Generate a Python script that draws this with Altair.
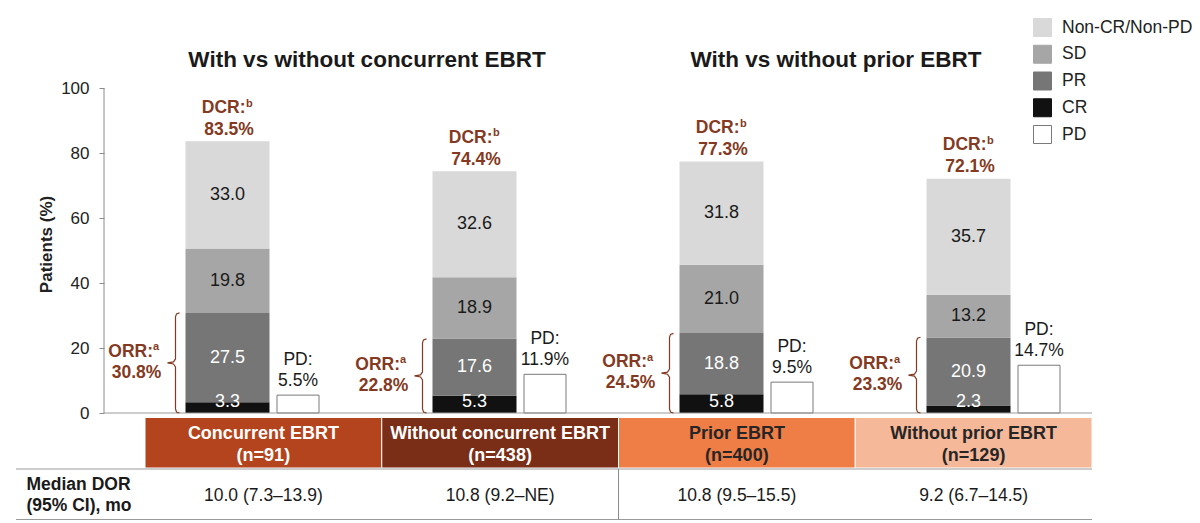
import altair as alt
import pandas as pd

# ---------------- data ----------------
groups = ["Concurrent EBRT", "Without concurrent EBRT", "Prior EBRT", "Without prior EBRT"]
group_n = ["(n=91)", "(n=438)", "(n=400)", "(n=129)"]
cr = [3.3, 5.3, 5.8, 2.3]
pr = [27.5, 17.6, 18.8, 20.9]
sd = [19.8, 18.9, 21.0, 13.2]
noncr = [33.0, 32.6, 31.8, 35.7]
pd_vals = [5.5, 11.9, 9.5, 14.7]
orr = [30.8, 22.8, 24.5, 23.3]
dcr = [83.5, 74.4, 77.3, 72.1]
median_dor = ["10.0 (7.3–13.9)", "10.8 (9.2–NE)", "10.8 (9.5–15.5)", "9.2 (6.7–14.5)"]
panel_titles = ["With vs without concurrent EBRT", "With vs without prior EBRT"]
y_ticks = [0, 20, 40, 60, 80, 100]

categories = ["Non-CR/Non-PD", "SD", "PR", "CR", "PD"]
cat_fill = ["#d9d9d9", "#a6a6a6", "#767676", "#111111", "#ffffff"]
cat_stroke = ["#d9d9d9", "#a6a6a6", "#767676", "#111111", "#7a7a7a"]
cat_label_color = {"CR": "#ffffff", "PR": "#ffffff", "SD": "#1a1a1a", "Non-CR/Non-PD": "#1a1a1a"}
box_colors = ["#b4441d", "#7a2d17", "#ee7d46", "#f5b999"]
box_text_colors = ["#ffffff", "#ffffff", "#262626", "#262626"]
BROWN = "#843a22"
FONT = "Liberation Sans"

# ---------------- layout ----------------
LEFT, TOP = 104, 88
PLOT_W, PLOT_H = 988, 435
PX_PER_GROUP = 247.0
PX_PER_PCT = 3.25
X_DOM = [-0.5, 3.5]
Y_DOM = [100 - PLOT_H / PX_PER_PCT, 100]


def ux(px):
    return px / PX_PER_GROUP


def uy(px):
    return px / PX_PER_PCT


def vx(page_x):
    return X_DOM[0] + (page_x - LEFT) / PX_PER_GROUP


def vy(page_y):
    return 100 - (page_y - TOP) / PX_PER_PCT


BAR_HALF = ux(42)
PD_X0, PD_X1 = ux(49.5), ux(91.5)
BOX_LEFT = vx(145)
BOX_W = (X_DOM[1] - BOX_LEFT) / 4

xscale = alt.Scale(domain=X_DOM, nice=False, zero=False)
yscale = alt.Scale(domain=Y_DOM, nice=False, zero=False)

# stacked segments
rows = []
for i in range(4):
    base = 0.0
    for rank, (cat, vals) in enumerate([("CR", cr), ("PR", pr), ("SD", sd), ("Non-CR/Non-PD", noncr)]):
        v = vals[i]
        mid = base + v / 2
        if cat == "CR":
            mid = max(mid, 3.3)
        rows.append(dict(g=i, cat=cat, rank=rank, x0=i - BAR_HALF, x1=i + BAR_HALF,
                         y0=base, y1=base + v, ymid=mid, label=f"{v:.1f}",
                         tcolor=cat_label_color[cat], xc=i))
        base += v
stack_df = pd.DataFrame(rows)

pd_df = pd.DataFrame(dict(g=range(4), cat="PD", x0=[i + PD_X0 for i in range(4)],
                          x1=[i + PD_X1 for i in range(4)], y0=0.0, y1=pd_vals,
                          xc=[i + (PD_X0 + PD_X1) / 2 for i in range(4)],
                          l1="PD:", l2=[f"{v}%" for v in pd_vals]))

ann_df = pd.DataFrame(dict(g=range(4), xc=list(range(4)), dcr=dcr, orr=orr,
                           orr_mid=[v / 2 for v in orr],
                           dcr_txt=[f"{v}%" for v in dcr], orr_txt=[f"{v}%" for v in orr]))

# braces
brace_rows = []
for i, o in enumerate(orr):
    xv, xe, xt = i + ux(-52), i + ux(-48), i + ux(-60)
    pts = [(xe, o), (xv + ux(1), o - uy(1)), (xv, o - uy(4)), (xv, o / 2 + uy(4)),
           (xv - ux(2), o / 2 + uy(1)), (xt, o / 2), (xv - ux(2), o / 2 - uy(1)),
           (xv, o / 2 - uy(4)), (xv, uy(4)), (xv + ux(1), uy(1)), (xe, 0)]
    for k, (x, y) in enumerate(pts):
        brace_rows.append(dict(g=i, k=k, x=x, y=y))
brace_df = pd.DataFrame(brace_rows)

box_df = pd.DataFrame(dict(name=groups, n=group_n, dor=median_dor,
                           x0=[BOX_LEFT + k * BOX_W for k in range(4)],
                           x1=[BOX_LEFT + (k + 1) * BOX_W for k in range(4)],
                           xc=[BOX_LEFT + (k + 0.5) * BOX_W for k in range(4)],
                           bcolor=box_colors, tcolor=box_text_colors))

title_df = pd.DataFrame(dict(t=panel_titles, x=[vx(367), vx(836)]))

legend = alt.Legend(orient="none", legendX=1033 - LEFT, legendY=18 - TOP, title=None,
                    symbolType="square", symbolSize=324, symbolStrokeWidth=1,
                    labelFont=FONT, labelFontSize=17.5, labelColor="#222222",
                    rowPadding=3.75, labelOffset=10, padding=0)
fill_scale = alt.Scale(domain=categories, range=cat_fill)
stroke_scale = alt.Scale(domain=categories, range=cat_stroke)

yaxis = alt.Axis(values=y_ticks, domain=False, grid=False, ticks=True, tickSize=5,
                 tickColor="#8c8c8c", labelPadding=10, labelFont=FONT, labelFontSize=17,
                 labelColor="#222222", title="Patients (%)", titleFont=FONT,
                 titleFontSize=17, titleFontWeight="bold", titleColor="#222222",
                 titlePadding=5, titleY=244 - TOP)

base_x = alt.X("x0:Q", scale=xscale, axis=None)

bars = alt.Chart(stack_df).mark_rect(strokeWidth=0).encode(
    x=base_x, x2="x1:Q",
    y=alt.Y("y0:Q", scale=yscale, axis=yaxis), y2="y1:Q",
    fill=alt.Fill("cat:N", scale=fill_scale, legend=legend),
    stroke=alt.Stroke("cat:N", scale=stroke_scale, legend=legend),
)

pd_bars = alt.Chart(pd_df).mark_rect(strokeWidth=1).encode(
    x=base_x, x2="x1:Q", y=alt.Y("y0:Q"), y2="y1:Q",
    fill=alt.Fill("cat:N", scale=fill_scale, legend=legend),
    stroke=alt.Stroke("cat:N", scale=stroke_scale, legend=legend),
)

axis_line = alt.Chart(pd.DataFrame({"a": [0]})).mark_rule(color="#8c8c8c", strokeWidth=1).encode(
    x=alt.value(0), y=alt.datum(0), y2=alt.datum(100))
base_line = alt.Chart(pd.DataFrame({"a": [0]})).mark_rule(color="#9a9a9a", strokeWidth=1).encode(
    x=alt.datum(X_DOM[0]), x2=alt.datum(X_DOM[1]), y=alt.datum(0))

seg_text = alt.Chart(stack_df).mark_text(font=FONT, fontSize=18, baseline="middle").encode(
    x=alt.X("xc:Q"), y=alt.Y("ymid:Q"), text="label:N",
    color=alt.Color("tcolor:N", scale=None))

pd_l1 = alt.Chart(pd_df).mark_text(font=FONT, fontSize=17.5, dy=-30, baseline="alphabetic",
                                    color="#1a1a1a").encode(x="xc:Q", y="y1:Q", text="l1:N")
pd_l2 = alt.Chart(pd_df).mark_text(font=FONT, fontSize=17.5, dy=-9, baseline="alphabetic",
                                    color="#1a1a1a").encode(x="xc:Q", y="y1:Q", text="l2:N")

dcr_l1 = alt.Chart(ann_df).mark_text(font=FONT, fontSize=17.5, fontWeight="bold", dx=18, dy=-28.5,
                                     align="right", baseline="alphabetic", color=BROWN).encode(
    x="xc:Q", y="dcr:Q", text=alt.value("DCR:"))
dcr_sup = alt.Chart(ann_df).mark_text(font=FONT, fontSize=11, fontWeight="bold", dx=18.5, dy=-35,
                                      align="left", baseline="alphabetic", color=BROWN).encode(
    x="xc:Q", y="dcr:Q", text=alt.value("b"))
dcr_l2 = alt.Chart(ann_df).mark_text(font=FONT, fontSize=17.5, fontWeight="bold", dx=1.5, dy=-6.5,
                                     align="center", baseline="alphabetic", color=BROWN).encode(
    x="xc:Q", y="dcr:Q", text="dcr_txt:N")

orr_l1 = alt.Chart(ann_df).mark_text(font=FONT, fontSize=17.5, fontWeight="bold", dx=-74.5, dy=-11,
                                     align="right", baseline="middle", color=BROWN).encode(
    x="xc:Q", y="orr_mid:Q", text=alt.value("ORR:"))
orr_sup = alt.Chart(ann_df).mark_text(font=FONT, fontSize=11, fontWeight="bold", dx=-74.5, dy=-15.5,
                                      align="left", baseline="middle", color=BROWN).encode(
    x="xc:Q", y="orr_mid:Q", text=alt.value("a"))
orr_l2 = alt.Chart(ann_df).mark_text(font=FONT, fontSize=17.5, fontWeight="bold", dx=-91, dy=10,
                                     align="center", baseline="middle", color=BROWN).encode(
    x="xc:Q", y="orr_mid:Q", text="orr_txt:N")

braces = alt.Chart(brace_df).mark_line(color=BROWN, strokeWidth=1.2).encode(
    x="x:Q", y="y:Q", detail="g:N", order="k:Q")

titles = alt.Chart(title_df).mark_text(font=FONT, fontSize=22.5, fontWeight="bold", align="center",
                                       baseline="alphabetic", color="#1a1a1a").encode(
    x="x:Q", y=alt.datum(vy(66.7)), text="t:N")

boxes = alt.Chart(box_df).mark_rect(stroke="white", strokeWidth=1).encode(
    x="x0:Q", x2="x1:Q", y=alt.datum(vy(417.5)), y2=alt.datum(vy(468)),
    color=alt.Color("bcolor:N", scale=None))
box_t1 = alt.Chart(box_df).mark_text(font=FONT, fontSize=18, fontWeight="bold", baseline="middle").encode(
    x="xc:Q", y=alt.datum(vy(434)), text="name:N", color=alt.Color("tcolor:N", scale=None))
box_t2 = alt.Chart(box_df).mark_text(font=FONT, fontSize=18, fontWeight="bold", baseline="middle").encode(
    x="xc:Q", y=alt.datum(vy(455.5)), text="n:N", color=alt.Color("tcolor:N", scale=None))

dor_t = alt.Chart(box_df).mark_text(font=FONT, fontSize=17.5, baseline="middle", color="#1a1a1a").encode(
    x="xc:Q", y=alt.datum(vy(495.5)), text="dor:N")

tbl_lines = alt.Chart(pd.DataFrame({"yy": [vy(469), vy(519.5)]})).mark_rule(color="#9a9a9a", strokeWidth=1).encode(
    x=alt.datum(vx(16)), x2=alt.datum(X_DOM[1]), y="yy:Q")
tbl_div = alt.Chart(pd.DataFrame({"a": [0]})).mark_rule(color="#8c8c8c", strokeWidth=1).encode(
    x=alt.datum(BOX_LEFT + 2 * BOX_W), y=alt.datum(vy(469)), y2=alt.datum(vy(519.5)))
row_label = alt.Chart(pd.DataFrame({"t": ["Median DOR", "(95% CI), mo"], "yy": [vy(485), vy(506)]})).mark_text(
    font=FONT, fontSize=17.5, fontWeight="bold", align="left", baseline="middle", color="#1a1a1a").encode(
    x=alt.datum(vx(26.5)), y="yy:Q", text="t:N")

chart = alt.layer(
    bars, pd_bars, axis_line, base_line, seg_text, pd_l1, pd_l2,
    dcr_l1, dcr_sup, dcr_l2, orr_l1, orr_sup, orr_l2, braces, titles,
    boxes, box_t1, box_t2, dor_t, tbl_lines, tbl_div, row_label,
).properties(
    width=PLOT_W, height=PLOT_H,
    autosize=alt.AutoSizeParams(type="none"),
    padding={"left": LEFT, "top": TOP, "right": 1200 - LEFT - PLOT_W, "bottom": 523 - TOP - PLOT_H},
    background="white",
).configure_view(stroke=None)

chart.save("out.html", embed_options={"renderer": "svg", "actions": False})
